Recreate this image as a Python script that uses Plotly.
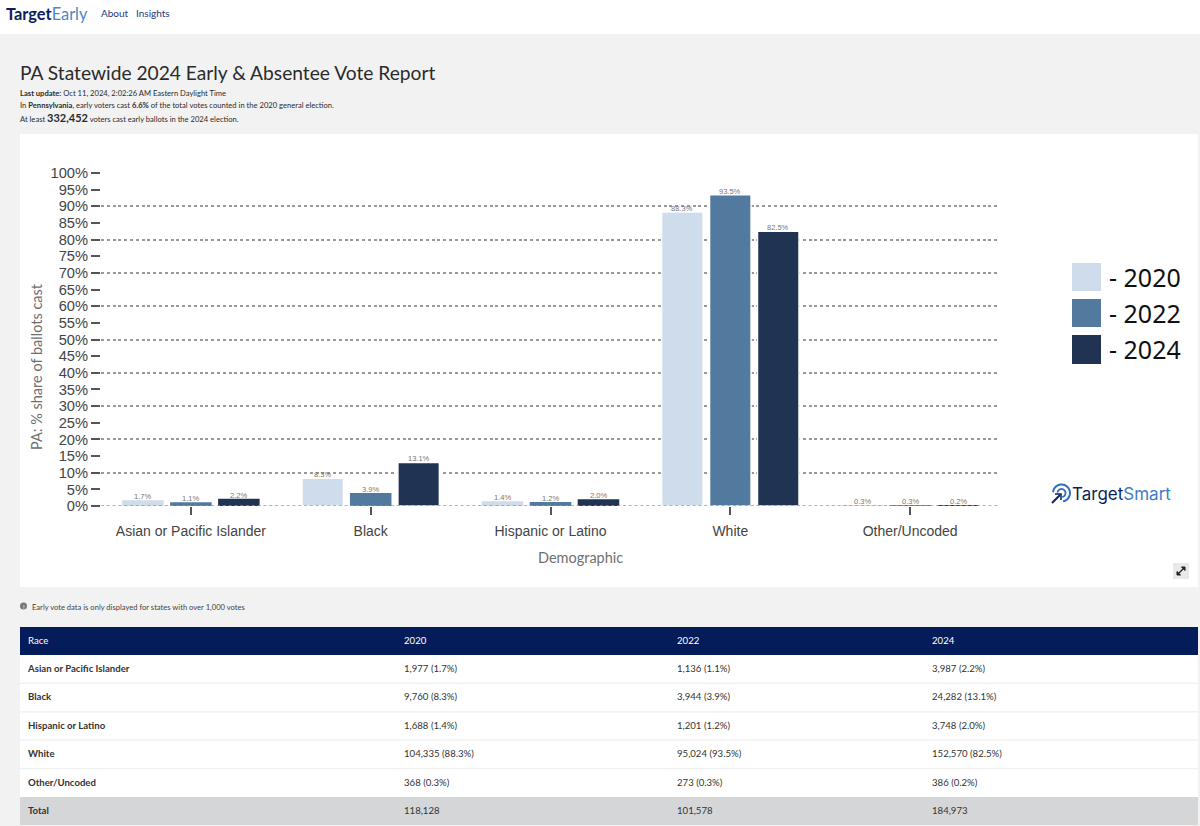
import numpy as np
import plotly.graph_objects as go

categories = ["Asian or Pacific Islander", "Black", "Hispanic or Latino", "White", "Other/Uncoded"]
years = ["2020", "2022", "2024"]
pct_2020 = [1.7, 8.3, 1.4, 88.3, 0.3]
pct_2022 = [1.1, 3.9, 1.2, 93.5, 0.3]
pct_2024 = [2.2, 13.1, 2.0, 82.5, 0.2]
votes_2020 = [1977, 9760, 1688, 104335, 368]
votes_2022 = [1136, 3944, 1201, 95024, 273]
votes_2024 = [3987, 24282, 3748, 152570, 386]
totals = [118128, 101578, 184973]
colors = ["#cfdcec", "#517a9e", "#213352"]
y_ticks = list(range(0, 105, 5))

W, H = 1200, 826
UI = "Lato"
CH = "Liberation Sans"
px = lambda x: x / W
py = lambda y: 1 - y / H


def rect(x0, y0, x1, y1, fill, layer="below"):
    return dict(type="rect", xref="paper", yref="paper", x0=px(x0), x1=px(x1), y0=py(y0), y1=py(y1),
                fillcolor=fill, line_width=0, layer=layer)


def note(x, y, text, size, color="#2b2b2b", font=UI, xanchor="left", angle=0, yanchor="middle"):
    return dict(xref="paper", yref="paper", x=px(x), y=py(y), text=text, showarrow=False, xanchor=xanchor,
                yanchor=yanchor, textangle=angle, font=dict(family=font, size=size, color=color),
                borderpad=0, borderwidth=0)


def arc(cx, cy, r, a0, a1, color, width):
    t = np.radians(np.linspace(a0, a1, 30))
    pts = [f"{px(cx + r * np.cos(v)):.5f},{py(cy - r * np.sin(v)):.5f}" for v in t]
    return dict(type="path", xref="paper", yref="paper", path="M" + " L".join(pts),
                line=dict(color=color, width=width), layer="above")


def seg(points, color, width, close=False, fill=None):
    p = "M" + " L".join(f"{px(a):.5f},{py(b):.5f}" for a, b in points) + (" Z" if close else "")
    d = dict(type="path", xref="paper", yref="paper", path=p, line=dict(color=color, width=width), layer="above")
    if fill:
        d["fillcolor"] = fill
    return d


fig = go.Figure()
series = [pct_2020, pct_2022, pct_2024]
for name, vals, col in zip(years, series, colors):
    fig.add_bar(
        x=categories, y=vals, name=name, cliponaxis=False,
        marker=dict(color=col, line=dict(color="#ffffff", width=[1.5 if v >= 5 else 0 for v in vals])),
        hoverinfo="skip",
    )
# overlay axis that carries the 10-point dashed grid
fig.add_scatter(x=categories, y=[None] * 5, yaxis="y2", showlegend=False, hoverinfo="skip")

rows = [[f"<b>{c}</b>" for c in categories] + ["<b>Total</b>"]]
for v, p, t in zip([votes_2020, votes_2022, votes_2024], series, totals):
    rows.append([f"<span>{a:,} ({b}%)</span>" for a, b in zip(v, p)] + [f"<span>{t:,}</span>"])
fills = ["#ffffff"] * 5 + ["#d5d6d8"]
fig.add_table(
    domain=dict(x=[px(20), px(1198)], y=[py(826), py(627)]),
    columnwidth=[376, 273, 255, 274],
    header=dict(values=[f"<span>{v}</span>" for v in ["Race"] + years], fill_color="#051c5a", line_width=0, height=28,
                font=dict(family=UI, size=9.6, color="#ffffff"), align="left"),
    cells=dict(values=rows, fill_color=[fills] * 4, line_width=0, height=28.4,
               font=dict(family=UI, size=9.6, color="#333333"), align="left"),
)

shapes = [
    rect(0, 0, 1200, 34, "#ffffff"),
    rect(20, 134, 1198, 587, "#ffffff"),
    rect(1173, 563, 1189, 579, "#e9e9e9"),
    dict(type="line", xref="paper", yref="y", x0=px(101), x1=px(1000), y0=0, y1=0, layer="above",
         line=dict(color="#999999", width=1.5, dash="3px,2.8px")),
    dict(type="rect", xref="paper", yref="paper", x0=px(1072), x1=px(1101), y0=py(291), y1=py(263),
         fillcolor=colors[0], line_width=0, layer="above"),
    dict(type="rect", xref="paper", yref="paper", x0=px(1072), x1=px(1101), y0=py(327), y1=py(299),
         fillcolor=colors[1], line_width=0, layer="above"),
    dict(type="rect", xref="paper", yref="paper", x0=px(1072), x1=px(1101), y0=py(364), y1=py(335),
         fillcolor=colors[2], line_width=0, layer="above"),
    dict(type="circle", xref="paper", yref="paper", x0=px(20), x1=px(27), y0=py(609.5), y1=py(602.5),
         fillcolor="#777777", line_width=0, layer="above"),
    # logo target
    arc(1061.5, 493, 8.5, -80, 175, "#2f6fc0", 2),
    arc(1061.5, 493, 4, -80, 175, "#2f6fc0", 1.8),
    seg([(1052, 503), (1060, 495)], "#0b1f5c", 2),
    seg([(1055, 494), (1061, 494), (1061, 500)], "#0b1f5c", 1.5),
    # expand icon
    seg([(1178, 574), (1184, 568)], "#222222", 1.2),
    seg([(1181.5, 567), (1185, 567), (1185, 570.5)], "#222222", 1, True, "#222222"),
    seg([(1177, 571.5), (1177, 575), (1180.5, 575)], "#222222", 1, True, "#222222"),
]
for yy in [683.4, 711.8, 740.2, 768.6]:
    shapes.append(dict(type="line", xref="paper", yref="paper", x0=px(20), x1=px(1198), y0=py(yy), y1=py(yy),
                       line=dict(color="#efefef", width=1.2), layer="above"))

annotations = [
    note(6, 13, "<b><span style='color:#0b1f5c'>Target</span></b><span style='color:#4f86c6'>Early</span>", 16.4),
    note(101, 13, "About", 10, "#24387c"),
    note(136, 13, "Insights", 10, "#24387c"),
    note(20, 72, "PA Statewide 2024 Early &amp; Absentee Vote Report", 19.2, "#2b2b2b"),
    note(20, 92.5, "<b>Last update:</b> Oct 11, 2024, 2:02:26 AM Eastern Daylight Time", 7.6),
    note(20, 104.5, "In <b>Pennsylvania</b>, early voters cast <b>6.6%</b> of the total votes counted in the 2020 general election.", 7.6),
    note(20, 117, "At least <b><span style='font-size:11px'>332,452</span></b> voters cast early ballots in the 2024 election.", 7.6),
    note(36, 367, "PA: % share of ballots cast", 14.5, "#6f6f6f", xanchor="center", angle=-90),
    note(580, 557, "Demographic", 14.5, "#6f6f6f", xanchor="center"),
    note(1109, 277, "- 2020", 25, "#111111", font="Noto Sans"),
    note(1109, 313, "- 2022", 25, "#111111", font="Noto Sans"),
    note(1109, 349.5, "- 2024", 25, "#111111", font="Noto Sans"),
    note(1072, 494, "<span style='color:#0b1f5c'>Target</span><span style='color:#3f7cc8'>Smart</span>", 17, font="Inter"),
    note(32, 606.5, "Early vote data is only displayed for states with over 1,000 votes", 7.6, "#444444"),
    note(23.5, 606, "!", 6, "#ffffff", xanchor="center"),
]
# value labels sit just above each bar, in axis coordinates
slot = (px(1000) - px(101)) * W / len(categories) * 0.8 / 3
for i, vals in enumerate(series):
    for cat, v in zip(categories, vals):
        annotations.append(dict(xref="x", yref="y", x=cat, y=v, xshift=(i - 1) * slot, yanchor="bottom", yshift=-1,
                                text=f"{v}%", showarrow=False, borderpad=0, borderwidth=0,
                                font=dict(family=CH, size=7.5, color="#777777")))

fig.update_layout(
    width=W, height=H, autosize=False, margin=dict(l=0, r=0, t=0, b=0, pad=0, autoexpand=False),
    paper_bgcolor="#f2f2f2", plot_bgcolor="rgba(0,0,0,0)", showlegend=False,
    barmode="group", bargap=0.2, bargroupgap=0.134,
    shapes=shapes, annotations=annotations,
    xaxis=dict(domain=[px(101), px(1000)], type="category", categoryorder="array", categoryarray=categories,
               showgrid=False, zeroline=False, showline=False, ticks="outside", ticklen=8, tickwidth=2,
               tickcolor="#555555", ticklabelstandoff=4, tickfont=dict(family=CH, size=14, color="#444444")),
    yaxis=dict(domain=[py(506), py(173)], range=[0, 100], tickvals=y_ticks, ticktext=[f"{v}%" for v in y_ticks],
               showgrid=False, zeroline=False, showline=False, ticks="outside", ticklen=9, tickwidth=2,
               tickcolor="#555555", tickfont=dict(family=CH, size=14.7, color="#444444")),
    yaxis2=dict(domain=[py(506), py(173)], range=[0, 100], overlaying="y", side="left", dtick=10,
                showticklabels=False, ticks="", zeroline=False, showline=False, showgrid=True,
                gridcolor="#999999", gridwidth=1.5, griddash="3px,2.8px"),
)
fig.write_html("out.html", config=dict(displayModeBar=False), default_width="1200px", default_height="826px")
with open("out.html", encoding="utf-8") as f:
    page = f.read()
page = page.replace("<head>", "<head><style>html,body{margin:0;padding:0;overflow:hidden}</style>", 1)
with open("out.html", "w", encoding="utf-8") as f:
    f.write(page)
